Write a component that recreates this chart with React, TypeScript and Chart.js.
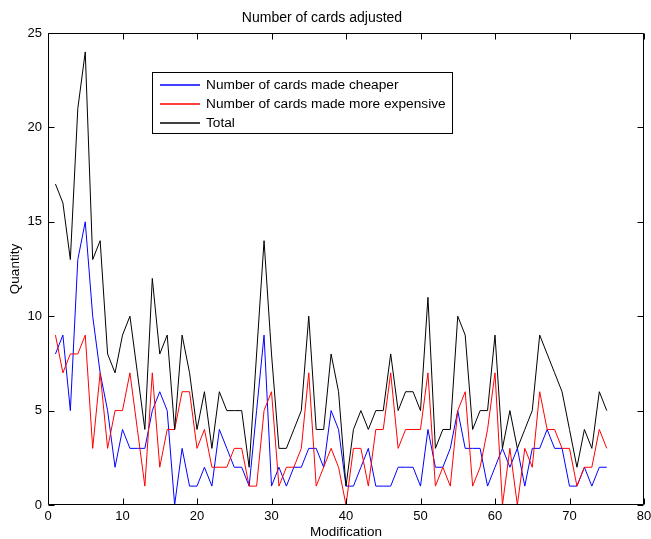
import React, { useEffect, useRef } from "react";
import { Chart, registerables } from "chart.js";

Chart.register(...registerables);

const modifications = [
  1, 2, 3, 4, 5, 6, 7, 8, 9, 10, 11, 12, 13, 14, 15, 16, 17, 18, 19, 20, 21, 22, 23, 24, 25,
  26, 27, 28, 29, 30, 31, 32, 33, 34, 35, 36, 37, 38, 39, 40, 41, 42, 43, 44, 45, 46, 47, 48, 49, 50,
  51, 52, 53, 54, 55, 56, 57, 58, 59, 60, 61, 62, 63, 64, 65, 66, 67, 68, 69, 70, 71, 72, 73, 74, 75,
];

const cheaper = [
  8, 9, 5, 13, 15, 10, 7, 5, 2, 4, 3, 3, 3, 5, 6, 5, 0, 3, 1, 1, 2, 1, 4, 3, 2,
  2, 1, 5, 9, 1, 2, 1, 2, 2, 3, 3, 2, 5, 4, 1, 1, 2, 3, 1, 1, 1, 2, 2, 2, 1,
  4, 2, 2, 3, 5, 3, 3, 3, 1, 2, 3, 2, 3, 1, 3, 3, 4, 3, 3, 1, 1, 2, 1, 2, 2,
];

const moreExpensive = [
  9, 7, 8, 8, 9, 3, 7, 3, 5, 5, 7, 4, 1, 7, 2, 4, 4, 6, 6, 3, 4, 2, 2, 2, 3,
  3, 1, 1, 5, 6, 1, 2, 2, 3, 7, 1, 2, 3, 2, 0, 3, 3, 1, 4, 4, 7, 3, 4, 4, 4,
  7, 1, 2, 1, 5, 6, 1, 2, 4, 7, 0, 3, 0, 3, 2, 6, 4, 4, 3, 3, 1, 2, 2, 4, 3,
];

const total = [
  17, 16, 13, 21, 24, 13, 14, 8, 7, 9, 10, 7, 4, 12, 8, 9, 4, 9, 7, 4, 6, 3, 6, 5, 5,
  5, 2, 8, 14, 8, 3, 3, 4, 5, 10, 4, 4, 8, 6, 1, 4, 5, 4, 5, 5, 8, 5, 6, 6, 5,
  11, 3, 4, 4, 10, 9, 4, 5, 5, 9, 3, 5, 3, 4, 5, 9, 8, 7, 6, 4, 2, 4, 3, 6, 5,
];

const seriesLabels = [
  "Number of cards made cheaper",
  "Number of cards made more expensive",
  "Total",
];
const seriesColors = ["rgb(0,0,255)", "rgb(255,0,0)", "rgb(0,0,0)"];

const xTicks = [0, 10, 20, 30, 40, 50, 60, 70, 80];
const yTicks = [0, 5, 10, 15, 20, 25];

const FONT = "'Liberation Sans', Arial, Helvetica, sans-serif";

const toPoints = (ys: number[]) => ys.map((y, i) => ({ x: modifications[i], y }));

const boxAndTicks = {
  id: "boxAndTicks",
  afterDatasetsDraw(chart: any) {
    const { ctx, chartArea, scales } = chart;
    const { left, right, top, bottom } = chartArea;
    const L = Math.round(left) + 0.5;
    const R = Math.round(right) - 0.5;
    const T = Math.round(top) + 0.5;
    const B = Math.round(bottom) - 0.5;
    const len = 6;
    ctx.save();
    ctx.strokeStyle = "#000";
    ctx.lineWidth = 1;
    ctx.beginPath();
    ctx.rect(L, T, R - L, B - T);
    for (const v of xTicks) {
      const px = Math.round(scales.x.getPixelForValue(v)) + 0.5;
      ctx.moveTo(px, B);
      ctx.lineTo(px, B - len);
      ctx.moveTo(px, T);
      ctx.lineTo(px, T + len);
    }
    for (const v of yTicks) {
      const py = Math.round(scales.y.getPixelForValue(v)) + 0.5;
      ctx.moveTo(L, py);
      ctx.lineTo(L + len, py);
      ctx.moveTo(R, py);
      ctx.lineTo(R - len, py);
    }
    ctx.stroke();
    ctx.restore();
  },
};

const boxLegend = {
  id: "boxLegend",
  afterDraw(chart: any) {
    const { ctx } = chart;
    const x0 = 152.5;
    const y0 = 72.5;
    const w = 300;
    const h = 61;
    ctx.save();
    ctx.fillStyle = "#fff";
    ctx.fillRect(x0, y0, w, h);
    ctx.strokeStyle = "#000";
    ctx.lineWidth = 1;
    ctx.strokeRect(x0, y0, w, h);
    ctx.font = `13.7px ${FONT}`;
    ctx.textBaseline = "middle";
    ctx.textAlign = "left";
    for (let i = 0; i < seriesLabels.length; i++) {
      const yRow = 85 + i * 19;
      ctx.strokeStyle = seriesColors[i];
      ctx.lineWidth = 1.3;
      ctx.beginPath();
      ctx.moveTo(160, yRow);
      ctx.lineTo(200, yRow);
      ctx.stroke();
      ctx.fillStyle = "#000";
      ctx.fillText(seriesLabels[i], 206, yRow);
    }
    ctx.restore();
  },
};

export default function App() {
  const ref = useRef<HTMLCanvasElement | null>(null);

  useEffect(() => {
    if (!ref.current) return;
    const series = [cheaper, moreExpensive, total];
    const chart = new Chart(ref.current, {
      type: "line",
      data: {
        datasets: series.map((s, i) => ({
          label: seriesLabels[i],
          data: toPoints(s),
          borderColor: seriesColors[i],
          borderWidth: 1,
          pointRadius: 0,
          tension: 0,
          order: 3 - i,
        })),
      },
      options: {
        animation: false,
        responsive: false,
        maintainAspectRatio: false,
        layout: { padding: { left: 0, right: 7, top: 0, bottom: 0 } },
        plugins: {
          legend: { display: false },
          tooltip: { enabled: false },
          title: {
            display: true,
            text: "Number of cards adjusted",
            color: "#000",
            font: { family: FONT, size: 14, weight: "normal", lineHeight: 1.2 },
            padding: { top: 10, bottom: 6.2 },
          },
        },
        scales: {
          x: {
            type: "linear",
            min: 0,
            max: 80,
            afterBuildTicks: (scale: any) => {
              scale.ticks = xTicks.map((v) => ({ value: v }));
            },
            afterFit: (scale: any) => {
              scale.height = 34;
              scale.paddingLeft = 0;
              scale.paddingRight = 0;
            },
            grid: { display: false, drawTicks: false, tickLength: 0 },
            border: { display: false },
            ticks: {
              color: "#000",
              font: { family: FONT, size: 13 },
              padding: 4,
              maxRotation: 0,
            },
            title: {
              display: true,
              text: "Modification",
              color: "#000",
              font: { family: FONT, size: 13.5, lineHeight: 1 },
              padding: { top: 0, bottom: 0 },
            },
          },
          y: {
            type: "linear",
            min: 0,
            max: 25,
            afterBuildTicks: (scale: any) => {
              scale.ticks = yTicks.map((v) => ({ value: v }));
            },
            afterFit: (scale: any) => {
              scale.width = 48;
              scale.paddingTop = 0;
              scale.paddingBottom = 0;
            },
            grid: { display: false, drawTicks: false, tickLength: 0 },
            border: { display: false },
            ticks: {
              color: "#000",
              font: { family: FONT, size: 13 },
              padding: 6,
            },
            title: {
              display: true,
              text: "Quantity",
              color: "#000",
              font: { family: FONT, size: 13.5, lineHeight: 1 },
              padding: { top: 9, bottom: 0 },
            },
          },
        },
      },
      plugins: [boxAndTicks, boxLegend],
    });
    return () => chart.destroy();
  }, []);

  return (
    <div style={{ position: "fixed", left: 0, top: 0, width: 651, height: 539, background: "#fff" }}>
      <canvas ref={ref} width={651} height={539} style={{ width: 651, height: 539 }} />
    </div>
  );
}
